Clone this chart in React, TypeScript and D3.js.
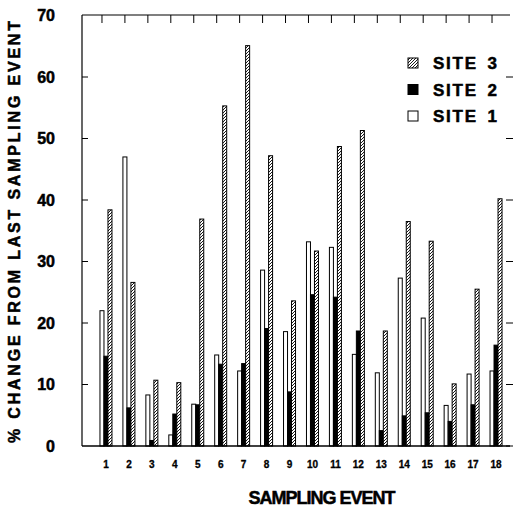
import React from 'react';
import * as d3 from 'd3';

const events = ['1', '2', '3', '4', '5', '6', '7', '8', '9', '10', '11', '12', '13', '14', '15', '16', '17', '18'];
const site1 = [22.0, 47.0, 8.3, 1.8, 6.8, 14.8, 12.2, 28.6, 18.6, 33.2, 32.3, 14.9, 11.9, 27.3, 20.8, 6.6, 11.7, 12.2];
const site2 = [14.6, 6.2, 0.9, 5.2, 6.7, 13.3, 13.4, 19.1, 8.8, 24.6, 24.2, 18.7, 2.5, 4.9, 5.4, 4.0, 6.7, 16.4];
const site3 = [38.4, 26.6, 10.7, 10.3, 36.9, 55.3, 65.1, 47.2, 23.6, 31.7, 48.7, 51.3, 18.7, 36.5, 33.3, 10.1, 25.5, 40.2];
const yTicks = [0, 10, 20, 30, 40, 50, 60, 70];
const legendItems = [
  { label: 'SITE', num: '3', fill: 'url(#hatch)' },
  { label: 'SITE', num: '2', fill: '#000' },
  { label: 'SITE', num: '1', fill: '#fff' },
];

const font = '"Liberation Sans", Arial, Helvetica, sans-serif';
// heavy type like the original
const heavy = { fontFamily: font, fontWeight: 'bold' as const, stroke: '#000', strokeWidth: 0.5 };

const App = () => {
  const left = 82;
  const top = 15;
  const bottom = 446;
  const right = 510;

  const x = d3.scaleBand().domain(events).range([94.5, 507.5]).padding(0);
  const y = d3.scaleLinear().domain([0, 70]).range([bottom, top + 0.5]);
  const cx = (e: string) => (x(e) as number) + x.bandwidth() / 2;

  const series = [
    { values: site1, off: -6, fill: '#fff' },
    { values: site2, off: -2, fill: '#000' },
    { values: site3, off: 2, fill: 'url(#hatch)' },
  ];

  return (
    <svg width={514} height={512} style={{ position: 'absolute', left: 0, top: 0, background: '#fff' }}>
      <defs>
        <pattern id="hatch" patternUnits="userSpaceOnUse" width={3} height={3}>
          <rect width={3} height={3} fill="#fff" />
          <path d="M-1,1 L1,-1 M0,3 L3,0 M2,4 L4,2" stroke="#000" strokeWidth={0.9} />
        </pattern>
      </defs>

      {/* bars */}
      {series.map((s, si) =>
        events.map((e, i) => {
          const v = s.values[i];
          const x0 = cx(e) + s.off;
          return (
            <rect
              key={`${si}-${e}`}
              x={x0}
              y={y(v)}
              width={4}
              height={bottom - y(v)}
              fill={s.fill}
              stroke="#000"
              strokeWidth={1}
            />
          );
        })
      )}

      {/* frame */}
      <g stroke="#000" fill="none">
        <line x1={left} x2={left} y1={top} y2={bottom} strokeWidth={1.2} />
        <line x1={left} x2={right} y1={top} y2={top} strokeWidth={1.2} />
        <line x1={left} x2={right} y1={bottom} y2={bottom} strokeWidth={1.4} />
        {yTicks.filter(t => t > 0 && t < 70).map(t => (
          <line key={`l${t}`} x1={left} x2={left + 6} y1={y(t)} y2={y(t)} strokeWidth={1} />
        ))}
        {yTicks.filter(t => t < 70).map(t => (
          <line key={`r${t}`} x1={506} x2={513} y1={y(t)} y2={y(t)} strokeWidth={1} />
        ))}
        {events.map(e => (
          <line key={`t${e}`} x1={cx(e) - 4} x2={cx(e) - 4} y1={top} y2={top + 8} strokeWidth={1} />
        ))}
      </g>

      {/* y tick labels */}
      {yTicks.map(t => (
        <text key={t} x={55} y={y(t) + 5.5} textAnchor="end" {...heavy} fontSize={16}>
          {t}
        </text>
      ))}

      {/* x tick labels */}
      {events.map(e => (
        <text key={e} x={cx(e)} y={468} textAnchor="middle" {...heavy} strokeWidth={0.3} fontSize={10}>
          {e}
        </text>
      ))}

      {/* axis titles */}
      <text
        transform="translate(20,232) rotate(-90)"
        textAnchor="middle"
        {...heavy}
        fontSize={16}
        textLength={422}
        lengthAdjust="spacing"
      >
        % CHANGE FROM LAST SAMPLING EVENT
      </text>
      <text x={322} y={504} textAnchor="middle" {...heavy} fontSize={18} textLength={147} lengthAdjust="spacing">
        SAMPLING EVENT
      </text>

      {/* legend */}
      {legendItems.map((d, i) => {
        const ly = 63 + i * 26.5;
        return (
          <g key={i}>
            <rect x={408} y={ly - 5} width={10} height={10} fill={d.fill} stroke="#000" strokeWidth={1} />
            <text x={433} y={ly + 6} {...heavy} fontSize={17} textLength={43} lengthAdjust="spacing">{d.label}</text>
            <text x={497} y={ly + 6} textAnchor="end" {...heavy} fontSize={17}>{d.num}</text>
          </g>
        );
      })}
    </svg>
  );
};

export default App;
